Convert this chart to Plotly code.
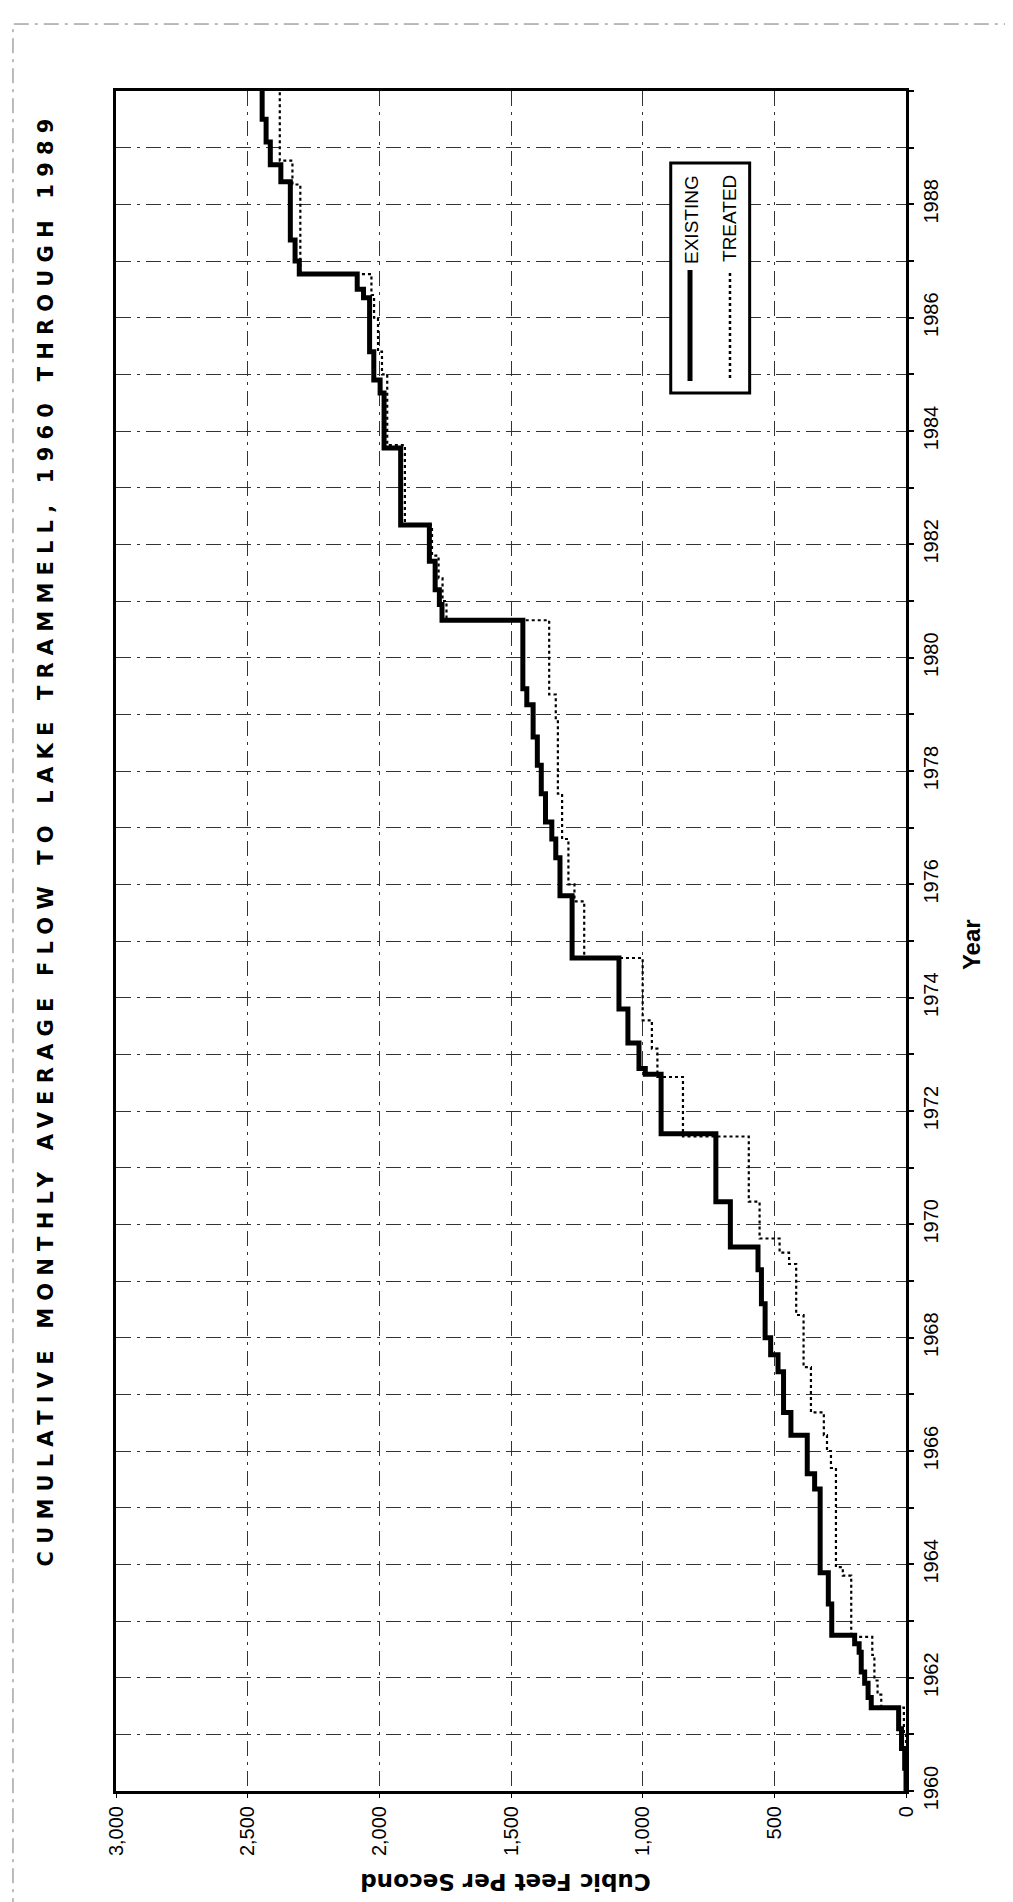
import plotly.graph_objects as go

# ---------------- data ----------------
existing_years = [1960.0, 1960.4, 1960.75, 1961.1, 1961.47, 1961.65, 1961.9, 1962.1, 1962.45, 1962.6,
                  1962.75, 1963.3, 1963.85, 1965.33, 1965.6, 1966.28, 1966.68, 1967.4, 1967.7, 1968.0,
                  1968.6, 1969.2, 1969.6, 1970.4, 1971.6, 1972.65, 1972.75, 1973.2, 1973.8, 1974.7,
                  1975.8, 1976.47, 1976.8, 1977.1, 1977.6, 1978.1, 1978.6, 1979.17, 1979.45, 1980.66,
                  1980.94, 1981.2, 1981.7, 1982.34, 1983.7, 1984.67, 1984.9, 1985.4, 1986.35, 1986.5,
                  1986.77, 1987.0, 1987.37, 1988.4, 1988.7, 1989.1, 1989.5, 1990.0]
existing_cfs = [0, 5, 17, 28, 132, 144, 157, 170, 178, 195,
                282, 295, 326, 347, 375, 437, 465, 486, 514, 535,
                549, 562, 667, 722, 930, 990, 1014, 1056, 1090, 1268,
                1314, 1330, 1345, 1369, 1385, 1400, 1416, 1440, 1455, 1762,
                1772, 1788, 1810, 1919, 1982, 1997, 2021, 2037, 2060, 2084,
                2304, 2320, 2338, 2374, 2414, 2430, 2445, 2445]

treated_years = [1960.0, 1961.0, 1961.47, 1961.7, 1961.95, 1962.4, 1962.72, 1963.8, 1963.95, 1965.7,
                 1966.0, 1966.28, 1966.68, 1967.48, 1968.4, 1969.3, 1969.5, 1969.75, 1970.4, 1971.55,
                 1972.6, 1973.1, 1973.6, 1974.7, 1975.7, 1976.0, 1976.8, 1977.6, 1978.9, 1979.35,
                 1980.66, 1981.0, 1981.4, 1981.8, 1982.34, 1983.75, 1985.0, 1985.4, 1986.0, 1986.4,
                 1986.77, 1988.35, 1988.77, 1990.0]
treated_cfs = [0, 8, 94, 108, 120, 128, 208, 240, 266, 285,
               300, 312, 361, 389, 417, 444, 480, 556, 597, 847,
               944, 965, 1000, 1222, 1259, 1282, 1306, 1322, 1330, 1355,
               1745, 1760, 1775, 1800, 1903, 1970, 1990, 2005, 2020, 2030,
               2300, 2330, 2378, 2382]

year_ticks = list(range(1960, 1991))
year_labels = [str(y) if (y % 2 == 0 and y < 1990) else "" for y in year_ticks]
cfs_ticks = [0, 500, 1000, 1500, 2000, 2500, 3000]
cfs_labels = ["0", "500", "1,000", "1,500", "2,000", "2,500", "3,000"]

title_text = "CUMULATIVE MONTHLY AVERAGE FLOW TO LAKE TRAMMELL, 1960 THROUGH 1989"

FONT = "Liberation Sans"

fig = go.Figure()
fig.add_trace(go.Scatter(x=treated_cfs, y=treated_years, mode="lines", name="TREATED",
                         line=dict(color="black", width=2.2, dash="dot", shape="vh")))
fig.add_trace(go.Scatter(x=existing_cfs, y=existing_years, mode="lines", name="EXISTING",
                         line=dict(color="black", width=5, shape="vh")))

fig.update_layout(
    width=1013, height=1902,
    margin=dict(l=108, r=115, t=83, b=119),
    paper_bgcolor="white", plot_bgcolor="white",
    showlegend=False,
    font=dict(family=FONT, color="black", size=20),
)

fig.update_xaxes(
    range=[3000, 0], tickvals=cfs_ticks, ticktext=cfs_labels, tickangle=-90,
    showline=True, mirror=True, linecolor="black", linewidth=3,
    showgrid=True, gridcolor="#333", gridwidth=1, griddash="longdashdot",
    ticks="outside", ticklen=4, tickcolor="black", zeroline=False,
    tickfont=dict(family=FONT, size=20),
)
fig.update_yaxes(
    range=[1960, 1990], side="right", tickvals=year_ticks, ticktext=year_labels, tickangle=-90,
    showline=True, mirror=True, linecolor="black", linewidth=3,
    showgrid=True, gridcolor="#333", gridwidth=1, griddash="longdashdot",
    ticks="outside", ticklen=5, tickwidth=2, tickcolor="black", zeroline=False,
    ticklabelstandoff=0,
    tickfont=dict(family=FONT, size=20),
)

ann = []
ann.append(dict(text='<span style="letter-spacing:7.2px">' + title_text + '</span>',
                x=-0.088, y=0.560, xref="paper", yref="paper", showarrow=False,
                textangle=-90, xanchor="center", yanchor="middle",
                font=dict(family="DejaVu Sans", size=21, color="black", weight="bold")))
ann.append(dict(text="<b>Year</b>", x=1.0823, y=0.4976, xref="paper", yref="paper", showarrow=False,
                textangle=-90, xanchor="center", yanchor="middle",
                font=dict(family=FONT, size=24, color="black")))
ann.append(dict(text="<b>Cubic Feet Per Second</b>", x=0.4935, y=-0.0535, xref="paper", yref="paper",
                showarrow=False, textangle=180, xanchor="center", yanchor="middle",
                font=dict(family="DejaVu Sans", size=23, color="black")))
ann.append(dict(text="EXISTING", x=0.7278, y=0.9247, xref="paper", yref="paper", showarrow=False,
                textangle=-90, xanchor="center", yanchor="middle",
                font=dict(family=FONT, size=19, color="black")))
ann.append(dict(text="TREATED", x=0.7772, y=0.9253, xref="paper", yref="paper", showarrow=False,
                textangle=-90, xanchor="center", yanchor="middle",
                font=dict(family=FONT, size=19, color="black")))
fig.update_layout(annotations=ann)

shapes = []
# legend box
shapes.append(dict(type="rect", xref="paper", yref="paper", x0=0.7022, x1=0.8021, y0=0.8224, y1=0.9576,
                   line=dict(color="black", width=3), fillcolor="white", layer="above"))
shapes.append(dict(type="line", xref="paper", yref="paper", x0=0.7266, x1=0.7266, y0=0.8294, y1=0.8947,
                   line=dict(color="black", width=5), layer="above"))
shapes.append(dict(type="line", xref="paper", yref="paper", x0=0.7772, x1=0.7772, y0=0.8312, y1=0.8941,
                   line=dict(color="black", width=2.5, dash="dot"), layer="above"))
# scanned page border
shapes.append(dict(type="rect", xref="paper", yref="paper", x0=-0.1304, x1=1.1392, y0=-0.0664, y1=1.0394,
                   line=dict(color="#777", width=1, dash="longdashdot"), layer="below"))
fig.update_layout(shapes=shapes)

fig.write_html("out.html")
